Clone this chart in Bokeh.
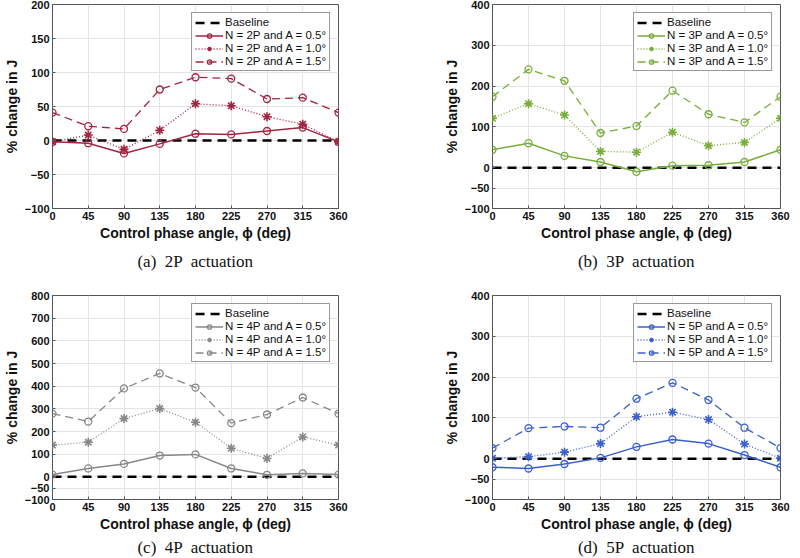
from bokeh.plotting import figure
from bokeh.models import Range1d, FixedTicker, Legend, LegendItem, Title
from bokeh.layouts import row, column
from bokeh.embed import file_html
from bokeh.resources import INLINE

angles = [0, 45, 90, 135, 180, 225, 270, 315, 360]
baseline = [0, 0, 0, 0, 0, 0, 0, 0, 0]

a_05 = [-2, -4, -19, -5, 10, 9, 14, 19, -2]
a_10 = [-2, 8, -13, 15, 54, 51, 35, 24, -2]
a_15 = [41, 21, 17, 75, 93, 91, 61, 63, 41]

b_05 = [44, 60, 29, 14, -10, 5, 6, 14, 44]
b_10 = [121, 157, 129, 40, 38, 87, 54, 62, 121]
b_15 = [174, 241, 213, 85, 102, 189, 131, 111, 174]

c_05 = [10, 37, 57, 94, 99, 37, 9, 15, 10]
c_10 = [140, 153, 257, 301, 241, 126, 81, 176, 140]
c_15 = [279, 244, 390, 456, 394, 237, 275, 350, 279]

d_05 = [-21, -24, -13, 2, 29, 47, 37, 9, -21]
d_10 = [1, 5, 16, 37, 103, 114, 96, 36, 1]
d_15 = [26, 75, 79, 76, 147, 186, 144, 76, 26]

x_ticks = [0, 45, 90, 135, 180, 225, 270, 315, 360]
y_ticks_a = [-100, -50, 0, 50, 100, 150, 200]
y_ticks_b = [-100, -50, 0, 100, 200, 300, 400]
y_ticks_c = [-100, -50, 0, 100, 200, 300, 400, 500, 600, 700, 800]
y_ticks_d = [-100, -50, 0, 100, 200, 300, 400]

NB = "\u00a0"
panels = [
    dict(n="2P", cap="(a) " + NB + "2P " + NB + "actuation", color="#a32440", ys=(a_05, a_10, a_15), yr=(-100, 200), yt=y_ticks_a),
    dict(n="3P", cap="(b) " + NB + "3P " + NB + "actuation", color="#79ad3a", ys=(b_05, b_10, b_15), yr=(-100, 400), yt=y_ticks_b),
    dict(n="4P", cap="(c) " + NB + "4P " + NB + "actuation", color="#888888", ys=(c_05, c_10, c_15), yr=(-100, 800), yt=y_ticks_c),
    dict(n="5P", cap="(d) " + NB + "5P " + NB + "actuation", color="#3b5fcc", ys=(d_05, d_10, d_15), yr=(-100, 400), yt=y_ticks_d),
]

FONT = "Liberation Sans"

def make(panel, left, fw, right, top, fh, bottom, cap_standoff):
    p = figure(frame_width=fw, frame_height=fh,
               min_border_left=left, min_border_right=right,
               min_border_top=top, min_border_bottom=bottom,
               x_range=Range1d(0, 360), y_range=Range1d(*panel["yr"]),
               output_backend="svg", toolbar_location=None)
    p.outline_line_color = "#555555"
    p.outline_line_width = 1
    p.background_fill_color = "white"
    p.border_fill_color = "white"
    for ax in (p.xaxis[0], p.yaxis[0]):
        ax.axis_line_color = None
        ax.major_tick_in = 3
        ax.major_tick_out = 0
        ax.minor_tick_line_color = None
        ax.major_tick_line_color = "#555555"
        ax.major_label_text_font = FONT
        ax.major_label_text_font_style = "bold"
        ax.major_label_text_font_size = "11px"
        ax.major_label_text_color = "#111111"
        ax.axis_label_text_font = FONT
        ax.axis_label_text_font_style = "bold"
        ax.axis_label_text_font_size = "14px"
        ax.axis_label_text_color = "#111111"
        ax.major_label_standoff = 3
        ax.axis_label_standoff = 2
    p.xaxis.ticker = FixedTicker(ticks=x_ticks)
    p.yaxis.ticker = FixedTicker(ticks=panel["yt"])
    p.xaxis.axis_label = "Control phase angle, \u03d5 (deg)"
    p.yaxis.axis_label = "% change in J"
    p.grid.grid_line_color = "#e4e4e4"
    p.grid.grid_line_width = 1

    c = panel["color"]
    s05, s10, s15 = panel["ys"]
    rb = p.line(angles, baseline, line_color="black", line_width=2.5, line_dash="9 6")
    l1 = p.line(angles, s05, line_color=c, line_width=1.5)
    m1 = p.scatter(angles, s05, marker="circle", size=7, line_color=c, line_width=1.3, fill_color=None)
    l2 = p.line(angles, s10, line_color=c, line_width=1.3, line_dash="1 2")
    m2 = p.scatter(angles, s10, marker="asterisk", size=9, line_color=c, line_width=1.6)
    l3 = p.line(angles, s15, line_color=c, line_width=1.3, line_dash="8 5")
    m3 = p.scatter(angles, s15, marker="circle", size=7, line_color=c, line_width=1.3, fill_color=None)

    n = panel["n"]
    legend = Legend(items=[
        LegendItem(label="Baseline", renderers=[rb]),
        LegendItem(label="N = %s and A = 0.5\u00b0" % n, renderers=[l1, m1]),
        LegendItem(label="N = %s and A = 1.0\u00b0" % n, renderers=[l2, m2]),
        LegendItem(label="N = %s and A = 1.5\u00b0" % n, renderers=[l3, m3]),
    ], location="top_right")
    legend.label_text_font = FONT
    legend.label_text_font_size = "11.5px"
    legend.label_text_color = "#111111"
    legend.label_height = 11
    legend.glyph_height = 11
    legend.glyph_width = 28
    legend.spacing = 1
    legend.padding = 3
    legend.margin = 8
    legend.label_standoff = 2
    legend.border_line_color = "#333333"
    legend.border_line_width = 1
    legend.background_fill_alpha = 1
    p.add_layout(legend, "center")

    cap = Title(text=panel["cap"], align="center", offset=-14, standoff=cap_standoff,
                text_font="Liberation Serif",
                text_font_size="17px", text_font_style="normal", text_color="#111111")
    p.add_layout(cap, "below")
    return p

p1 = make(panels[0], 44, 286, 62, 4, 204, 62, 13)
p2 = make(panels[1], 92, 288, 12, 4, 204, 62, 13)
p3 = make(panels[2], 44, 286, 62, 18, 204, 50, 2)
p4 = make(panels[3], 92, 288, 12, 18, 204, 50, 2)

layout = column(row(p1, p2), row(p3, p4))

with open("out.html", "w") as f:
    f.write(file_html(layout, INLINE))
